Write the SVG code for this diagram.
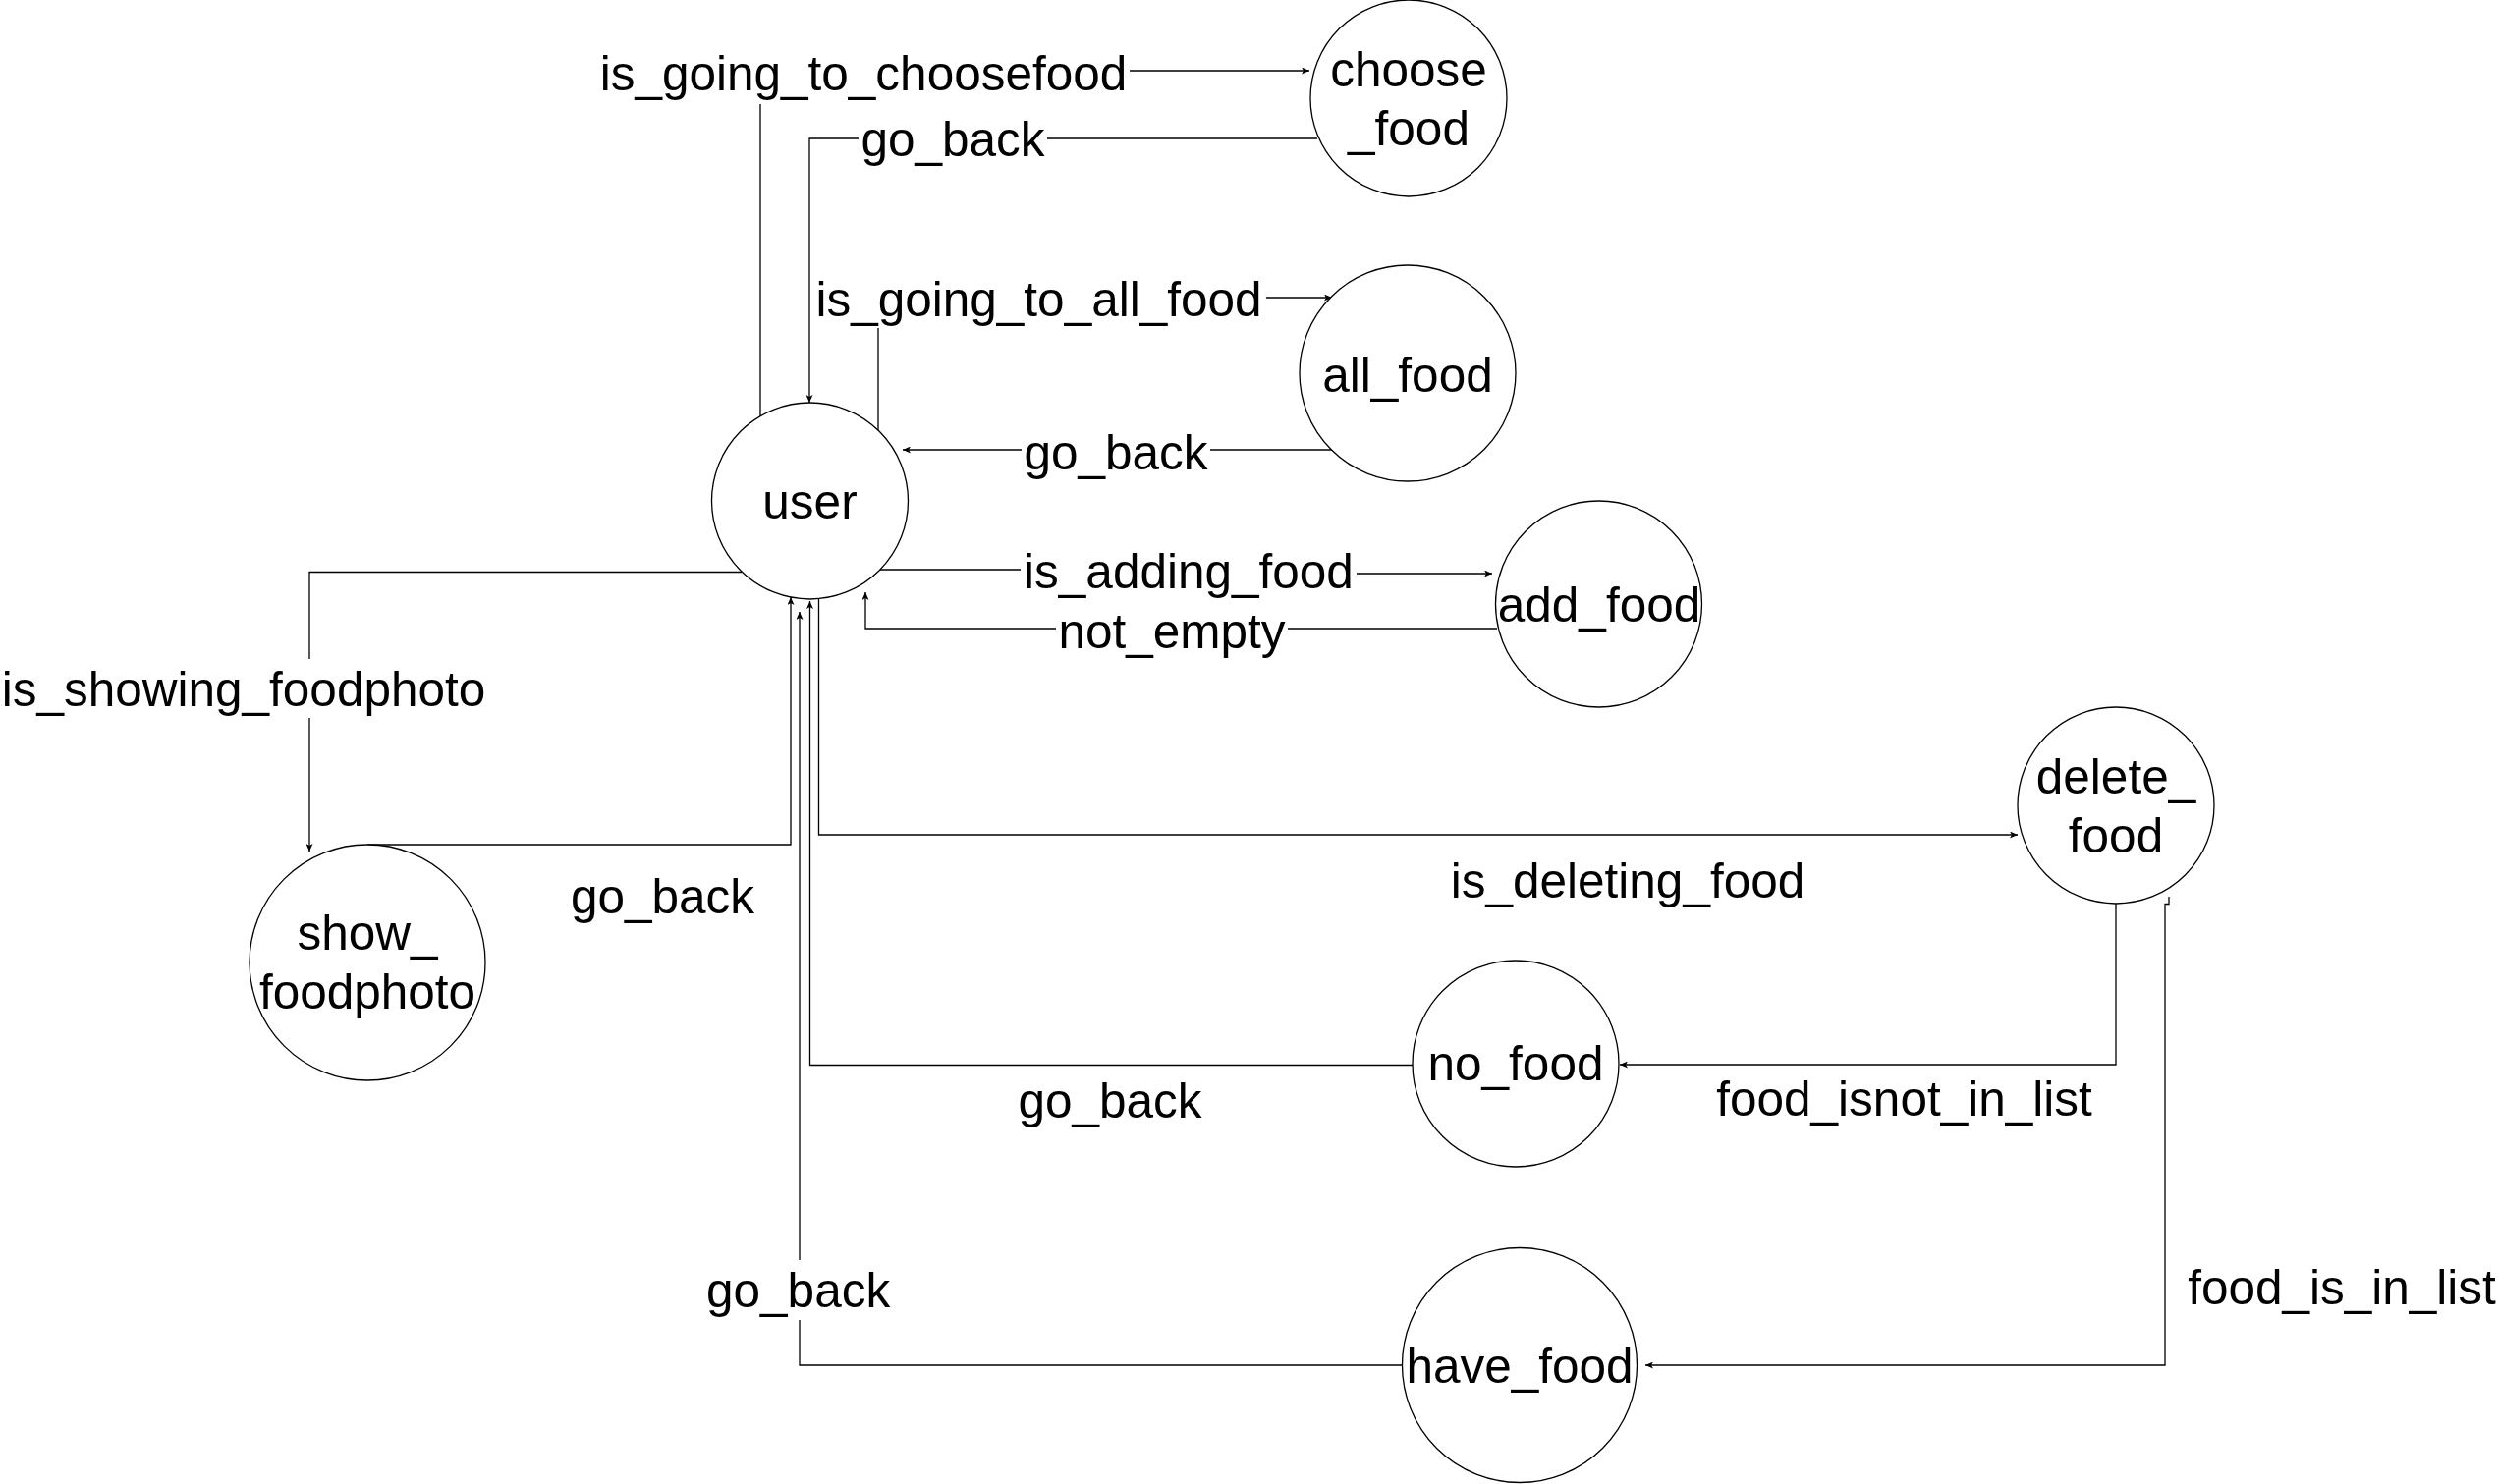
<svg xmlns="http://www.w3.org/2000/svg" width="2543" height="1511" viewBox="0 0 2543 1511">
<style>
.node{fill:#fff;stroke:#000;stroke-width:1.3}
.edge{fill:none;stroke:#000;stroke-width:1.3}
text{font-family:"Liberation Sans",Arial,Helvetica,sans-serif;font-size:49.5px;fill:#000;text-anchor:middle}
.bg{fill:#fff;stroke:none}
</style>
<defs>
<marker id="arr" markerUnits="userSpaceOnUse" viewBox="0 0 8 7" refX="8" refY="3.5" markerWidth="8" markerHeight="7" orient="auto">
<path d="M0,0 L8,3.5 L0,7 L2,3.5 Z" fill="#000"/>
</marker>
</defs>
<rect width="2543" height="1511" fill="#fff"/>
<g id="connectors">
<path class="edge" d="M774,424 V72 H1333" marker-end="url(#arr)"/>
<path class="edge" d="M1341,141 H824 V410" marker-end="url(#arr)"/>
<path class="edge" d="M894,438 V303 H1356" marker-end="url(#arr)"/>
<path class="edge" d="M1356,458 H919" marker-end="url(#arr)"/>
<path class="edge" d="M896,580 H1210 V584 H1519" marker-end="url(#arr)"/>
<path class="edge" d="M1524,640 H881 V603" marker-end="url(#arr)"/>
<path class="edge" d="M755,582.5 H315 V867" marker-end="url(#arr)"/>
<path class="edge" d="M374,860 H805 V608" marker-end="url(#arr)"/>
<path class="edge" d="M833.5,610 V850 H2054" marker-end="url(#arr)"/>
<path class="edge" d="M2154,920 V1084 H1649" marker-end="url(#arr)"/>
<path class="edge" d="M2208,913 V920.5 H2204 V1390 H1675" marker-end="url(#arr)"/>
<path class="edge" d="M1440,1084.5 H824.5 V612" marker-end="url(#arr)"/>
<path class="edge" d="M1428,1390 H814 V623" marker-end="url(#arr)"/>
<g id="edge-labels">
<rect class="bg" x="608" y="52" width="542" height="54"/>
<text x="879" y="92">is_going_to_choosefood</text>
<rect class="bg" x="874" y="122" width="192" height="48"/>
<text x="970" y="159">go_back</text>
<rect class="bg" x="827" y="282" width="462" height="52"/>
<text x="1057.5" y="322">is_going_to_all_food</text>
<rect class="bg" x="1040" y="438" width="192" height="48"/>
<text x="1136" y="478">go_back</text>
<rect class="bg" x="1039" y="558" width="342" height="50"/>
<text x="1210" y="599">is_adding_food</text>
<rect class="bg" x="1075" y="622" width="236" height="48"/>
<text x="1193" y="660">not_empty</text>
<rect class="bg" x="0" y="671" width="498" height="60"/>
<text x="248" y="719">is_showing_foodphoto</text>
<text x="674.5" y="930">go_back</text>
<text x="1657" y="914">is_deleting_food</text>
<text x="1938.5" y="1136">food_isnot_in_list</text>
<text x="1130" y="1138">go_back</text>
<text x="2384" y="1328">food_is_in_list</text>
<rect class="bg" x="716" y="1283" width="194" height="61"/>
<text x="812.6" y="1331">go_back</text>
</g>
</g>
<g id="node-choose_food"><circle class="node" cx="1434" cy="100" r="100"/><text x="1434" y="88">choose</text><text x="1434" y="148">_food</text></g>
<g id="node-all_food"><circle class="node" cx="1433" cy="380" r="110"/><text x="1433" y="399">all_food</text></g>
<g id="node-user"><circle class="node" cx="824.5" cy="510" r="100"/><text x="824.5" y="528">user</text></g>
<g id="node-add_food"><circle class="node" cx="1627.5" cy="615" r="105"/><text x="1628" y="633">add_food</text></g>
<g id="node-delete_food"><circle class="node" cx="2154" cy="820" r="100"/><text x="2154" y="808">delete_</text><text x="2154" y="868">food</text></g>
<g id="node-show_foodphoto"><circle class="node" cx="374" cy="980" r="120"/><text x="374" y="967">show_</text><text x="374" y="1027">foodphoto</text></g>
<g id="node-no_food"><circle class="node" cx="1543" cy="1083" r="105"/><text x="1543" y="1100">no_food</text></g>
<g id="node-have_food"><circle class="node" cx="1547" cy="1390" r="119.5"/><text x="1547" y="1408">have_food</text></g>
</svg>
